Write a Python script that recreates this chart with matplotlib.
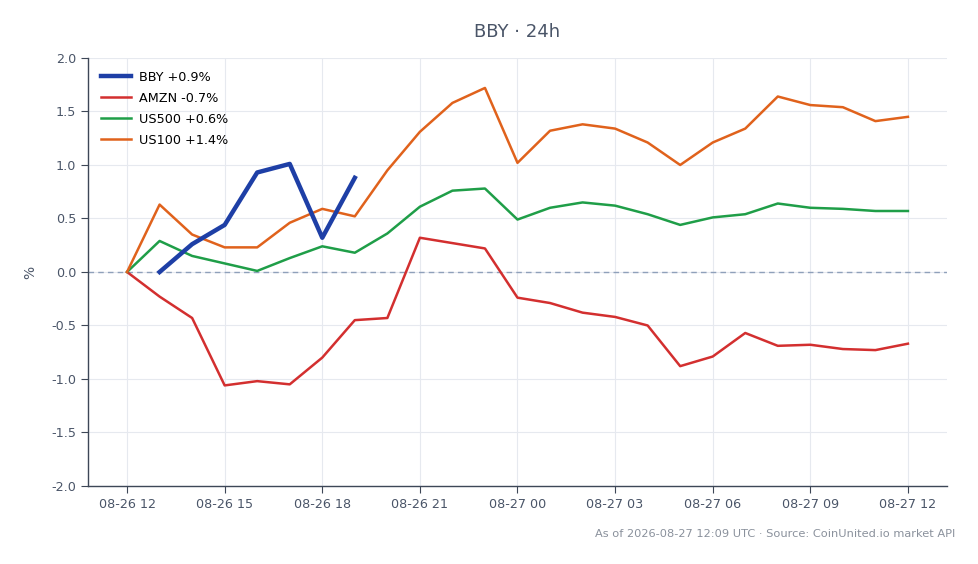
import matplotlib
matplotlib.use("Agg")
import matplotlib.pyplot as plt
import matplotlib.dates as mdates
import pandas as pd
import numpy as np

times = pd.date_range("2026-08-26 12:00", periods=25, freq="h")

us100 = [0.00, 0.63, 0.35, 0.23, 0.23, 0.46, 0.59, 0.52, 0.95, 1.31, 1.58, 1.72,
         1.02, 1.32, 1.38, 1.34, 1.21, 1.00, 1.21, 1.34, 1.64, 1.56, 1.54, 1.41, 1.45]
us500 = [0.00, 0.29, 0.15, 0.08, 0.01, 0.13, 0.24, 0.18, 0.36, 0.61, 0.76, 0.78,
         0.49, 0.60, 0.65, 0.62, 0.54, 0.44, 0.51, 0.54, 0.64, 0.60, 0.59, 0.57, 0.57]
amzn = [0.00, -0.23, -0.43, -1.06, -1.02, -1.05, -0.80, -0.45, -0.43, 0.32, 0.27, 0.22,
        -0.24, -0.29, -0.38, -0.42, -0.50, -0.88, -0.79, -0.57, -0.69, -0.68, -0.72, -0.73, -0.67]
bby_times = times[1:8]
bby = [0.00, 0.26, 0.44, 0.93, 1.01, 0.32, 0.88]

labels = ["BBY +0.9%", "AMZN -0.7%", "US500 +0.6%", "US100 +1.4%"]
colors = ["#1e3fa6", "#d32f2f", "#1f9e48", "#e0621c"]

text_col = "#4a5568"

fig = plt.figure(figsize=(9.79, 5.64), dpi=100)
ax = fig.add_axes([0.0899, 0.1383, 0.8774, 0.7589])

ax.plot(bby_times, bby, color=colors[0], lw=3.2, label=labels[0], zorder=5)
ax.plot(times, amzn, color=colors[1], lw=1.8, label=labels[1], zorder=4)
ax.plot(times, us500, color=colors[2], lw=1.8, label=labels[2], zorder=4)
ax.plot(times, us100, color=colors[3], lw=1.8, label=labels[3], zorder=4)

ax.axhline(0, color="#8fa0ba", lw=1.0, ls=(0, (4, 3)), zorder=2)

ax.set_ylim(-2.0, 2.0)
ax.set_yticks(np.arange(-2.0, 2.01, 0.5))
ax.yaxis.set_major_formatter(matplotlib.ticker.FormatStrFormatter("%.1f"))
ax.xaxis.set_major_locator(mdates.HourLocator(byhour=range(0, 24, 3)))
ax.xaxis.set_major_formatter(mdates.DateFormatter("%m-%d %H"))
ax.margins(x=0.05)

ax.grid(True, color="#e6e9ef", lw=0.8, zorder=0)
ax.set_axisbelow(True)
for s in ["top", "right"]:
    ax.spines[s].set_visible(False)
for s in ["left", "bottom"]:
    ax.spines[s].set_color("#3d4757")
    ax.spines[s].set_linewidth(1.0)
ax.tick_params(colors=text_col, labelsize=9.2, length=5, color="#3d4757")
ax.set_ylabel("%", color=text_col, fontsize=10, labelpad=10)

ax.set_title("BBY · 24h", color=text_col, fontsize=13, pad=15)
leg = ax.legend(loc="upper left", frameon=False, fontsize=9.2, handlelength=2.4,
                handletextpad=0.6, borderaxespad=0.6, labelspacing=0.62)

fig.text(0.976, 0.054, "As of 2026-08-27 12:09 UTC · Source: CoinUnited.io market API",
         ha="right", va="center", color="#8a919c", fontsize=8.2)

fig.savefig("out.png", dpi=100, facecolor="white")
